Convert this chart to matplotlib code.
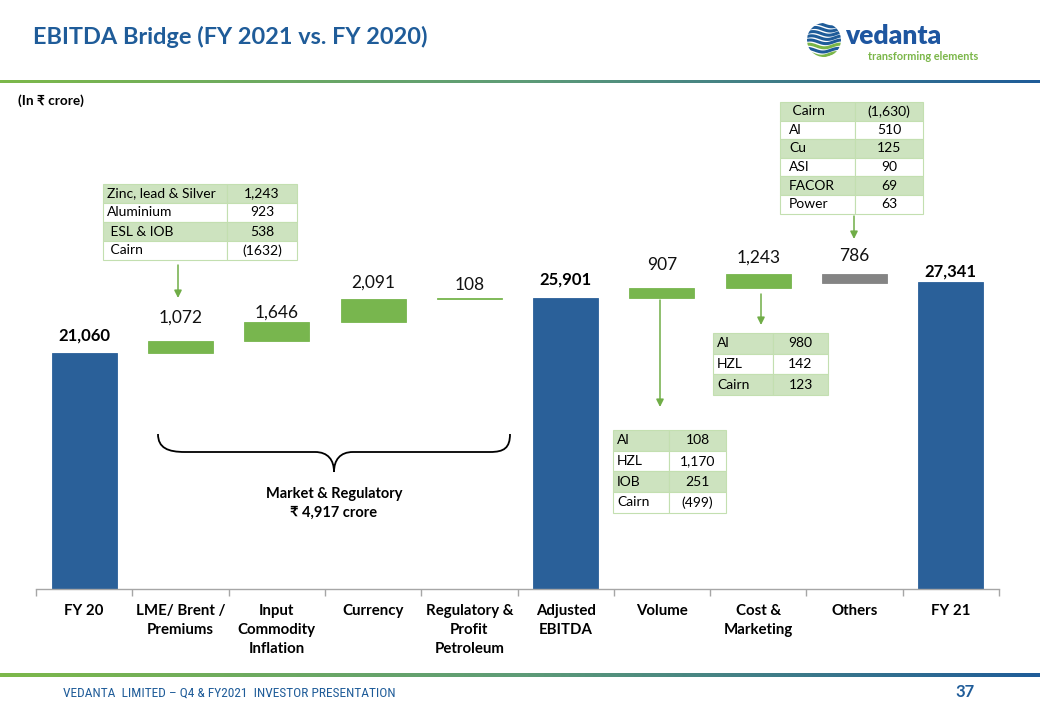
import matplotlib
matplotlib.use('Agg')
import matplotlib.pyplot as plt
from matplotlib.patches import Rectangle, FancyArrowPatch, PathPatch, Circle
from matplotlib.path import Path
from matplotlib.colors import LinearSegmentedColormap
import numpy as np

FONT = ['Lato', 'DejaVu Sans']
plt.rcParams['font.family'] = FONT

# ---------------- data ----------------
categories = ['FY 20', 'LME/ Brent /\nPremiums', 'Input\nCommodity\nInflation', 'Currency',
              'Regulatory &\nProfit\nPetroleum', 'Adjusted\nEBITDA', 'Volume', 'Cost &\nMarketing',
              'Others', 'FY 21']
values = [21060, 1072, 1646, 2091, 108, 25901, 907, 1243, -786, 27341]
kinds = ['total', 'step', 'step', 'step', 'step', 'total', 'step', 'step', 'step', 'total']
value_labels = ['21,060', '1,072', '1,646', '2,091', '108', '25,901', '907', '1,243', '786', '27,341']

zinc_names = ['Zinc, lead & Silver', 'Aluminium', ' ESL & IOB', ' Cairn']
zinc_values = ['1,243', '923', '538', '(1632)']
others_names = [' Cairn', 'Al', 'Cu', 'ASI', 'FACOR', 'Power']
others_values = ['(1,630)', '510', '125', '90', '69', '63']
volume_names = ['Al', 'HZL', 'IOB', 'Cairn']
volume_values = ['108', '1,170', '251', '(499)']
cost_names = ['Al', 'HZL', 'Cairn']
cost_values = ['980', '142', '123']

# ---------------- styles ----------------
BLUE = '#2A6099'
GREEN = '#78B64E'
GREY = '#848484'
TITLE_BLUE = '#1F5C99'
TBL_GREEN = '#CDE3BF'
TBL_EDGE = '#C3DFB0'
ARROW = '#70AD47'
label_offsets_px = [17, 23, 10, 16, 13, 19, 23, 17, 18, 11]

W, H = 1040, 720
fig = plt.figure(figsize=(W / 100, H / 100), dpi=100)
fig.patch.set_facecolor('white')

axis_y = 589
top_y = 90
scale = 0.011218  # px per unit
ax = fig.add_axes([36 / W, (H - axis_y) / H, (999 - 36) / W, (axis_y - top_y) / H])
ax.set_ylim(0, (axis_y - top_y) / scale)
ax.set_xlim(0, len(categories))

# waterfall
bottoms, heights, colors, tops = [], [], [], []
running = 0
for v, k in zip(values, kinds):
    if k == 'total':
        b, h, c = 0, v, BLUE
        running = v
    else:
        if v >= 0:
            b, h, c = running, v, GREEN
        else:
            b, h, c = running + v, -v, GREY
        running += v
    bottoms.append(b); heights.append(h); colors.append(c); tops.append(b + h)

centers = np.arange(len(categories)) + 0.5
ax.bar(centers, heights, bottom=bottoms, width=0.675, color=colors, edgecolor=colors, linewidth=0.6)

for i, (x, t, lab, k) in enumerate(zip(centers, tops, value_labels, kinds)):
    bold = (k == 'total')
    ax.annotate(lab, (x, t), xytext=(0, label_offsets_px[i] * 0.72), textcoords='offset points',
                ha='center', va='center', fontsize=12 if bold else 12.5,
                fontweight='bold' if bold else 'normal', color='black' if bold else '#111111')

for s in ['left', 'right', 'top']:
    ax.spines[s].set_visible(False)
ax.spines['bottom'].set_color('#A6A6A6')
ax.spines['bottom'].set_linewidth(1.0)
ax.set_yticks([])
ax.set_xticks(centers)
ax.set_xticklabels(categories, fontsize=10.8, fontweight='bold', linespacing=1.42)
ax.tick_params(axis='x', which='major', length=0, pad=11)
ax.set_xticks(np.arange(len(categories) + 1), minor=True)
ax.tick_params(axis='x', which='minor', length=5, color='#A6A6A6', width=1, direction='out')
ax.patch.set_alpha(0)

# ---------------- overlay (pixel coords) ----------------
ov = fig.add_axes([0, 0, 1, 1])
ov.set_xlim(0, W)
ov.set_ylim(H, 0)
ov.axis('off')
ov.patch.set_alpha(0)

# title & header
ov.text(33, 44, 'EBITDA Bridge (FY 2021 vs. FY 2020)', fontsize=16.9, fontweight='bold',
        color=TITLE_BLUE, ha='left', va='baseline')
ov.text(18, 101, '(In \u20b9 crore)', fontsize=9.8, fontweight='bold', ha='left', va='center')

grad = LinearSegmentedColormap.from_list('g', ['#7CB84A', '#5E9C77', '#1F5C99'])
gimg = np.linspace(0, 1, 512).reshape(1, -1)
ov.imshow(gimg, cmap=grad, extent=(0, W, 83, 80), aspect='auto', zorder=1)
ov.imshow(gimg, cmap=grad, extent=(0, W, 677, 673), aspect='auto', zorder=1)
ov.set_xlim(0, W)
ov.set_ylim(H, 0)

# footer
ov.text(63, 693, 'VEDANTA  LIMITED \u2013 Q4 & FY2021  INVESTOR PRESENTATION', fontsize=9.6,
        color=TITLE_BLUE, ha='left', va='center',
        family=['Liberation Sans Narrow', 'Roboto Condensed', 'Lato', 'DejaVu Sans'])
ov.text(975, 692, '37', fontsize=12, fontweight='bold', color=TITLE_BLUE, ha='right', va='center')

# logo
cx, cy, r = 824, 40, 17
clip = Circle((cx, cy), r, transform=ov.transData, facecolor='none', edgecolor='none')
ov.add_patch(clip)
xs = np.linspace(cx - r, cx + r, 80)
for j, y0 in enumerate(np.arange(cy - r + 2, cy + r, 4.2)):
    ys = y0 + 1.8 * np.sin((xs - cx) / 5.0 + j * 0.3)
    col = '#1F5C99' if (y0 < cy - 2 or j % 2 == 0) else '#7AB648'
    if y0 > cy + 4:
        col = '#7AB648' if j % 2 == 1 else '#1F5C99'
    ln, = ov.plot(xs, ys, color=col, lw=2.2, solid_capstyle='butt')
    ln.set_clip_path(clip)
ov.text(845, 44, 'vedanta', fontsize=19, fontweight='heavy', color='#1E56A0', ha='left', va='baseline')
ov.text(868, 56, 'transforming elements', fontsize=7.9, fontweight='bold', color='#7AB648',
        ha='left', va='center')


def draw_table(x0, xdiv, x1, y0, row_h, names, vals, green_rows, name_x=None):
    for i, (n, v) in enumerate(zip(names, vals)):
        yt = y0 + i * row_h
        fc = TBL_GREEN if i in green_rows else 'white'
        ov.add_patch(Rectangle((x0, yt), xdiv - x0, row_h, facecolor=fc, edgecolor=TBL_EDGE, lw=0.8, zorder=3))
        ov.add_patch(Rectangle((xdiv, yt), x1 - xdiv, row_h, facecolor=fc, edgecolor=TBL_EDGE, lw=0.8, zorder=3))
        ov.text((name_x if name_x else x0 + 4), yt + row_h / 2, n, fontsize=10, ha='left', va='center', zorder=4)
        ov.text((xdiv + x1) / 2, yt + row_h / 2, v, fontsize=10, ha='center', va='center', zorder=4)


draw_table(103, 227, 297, 184, 19, zinc_names, zinc_values, {0, 2}, name_x=107)
draw_table(780, 855, 923, 102, 18.6, others_names, others_values, {0, 2, 4}, name_x=789)
draw_table(613, 669, 726, 430, 20.7, volume_names, volume_values, {0, 2}, name_x=617)
draw_table(713, 773, 828, 333, 20.7, cost_names, cost_values, {0, 2}, name_x=717)

# arrows
for (x, ya, yb) in [(178, 265, 298), (660, 300, 407), (761, 294, 325), (854, 216, 239)]:
    ov.add_patch(FancyArrowPatch((x, ya), (x, yb), arrowstyle='-|>', mutation_scale=11,
                                 color=ARROW, lw=1.1, shrinkA=0, shrinkB=0))

# brace
verts = [(158, 434), (158, 448), (168, 452), (185, 452),
         (315, 452),
         (328, 452), (334, 460), (334, 472),
         (334, 460), (340, 452), (353, 452),
         (490, 452),
         (504, 452), (510, 448), (510, 434)]
codes = [Path.MOVETO, Path.CURVE4, Path.CURVE4, Path.CURVE4,
         Path.LINETO,
         Path.CURVE4, Path.CURVE4, Path.CURVE4,
         Path.CURVE4, Path.CURVE4, Path.CURVE4,
         Path.LINETO,
         Path.CURVE4, Path.CURVE4, Path.CURVE4]
ov.add_patch(PathPatch(Path(verts, codes), facecolor='none', edgecolor='black', lw=1.3))
ov.text(334, 494, 'Market & Regulatory', fontsize=10.5, fontweight='bold', ha='center', va='center')
ov.text(334, 513, '\u20b9 4,917 crore', fontsize=10.5, fontweight='bold', ha='center', va='center')

fig.savefig('out.png', dpi=100)
